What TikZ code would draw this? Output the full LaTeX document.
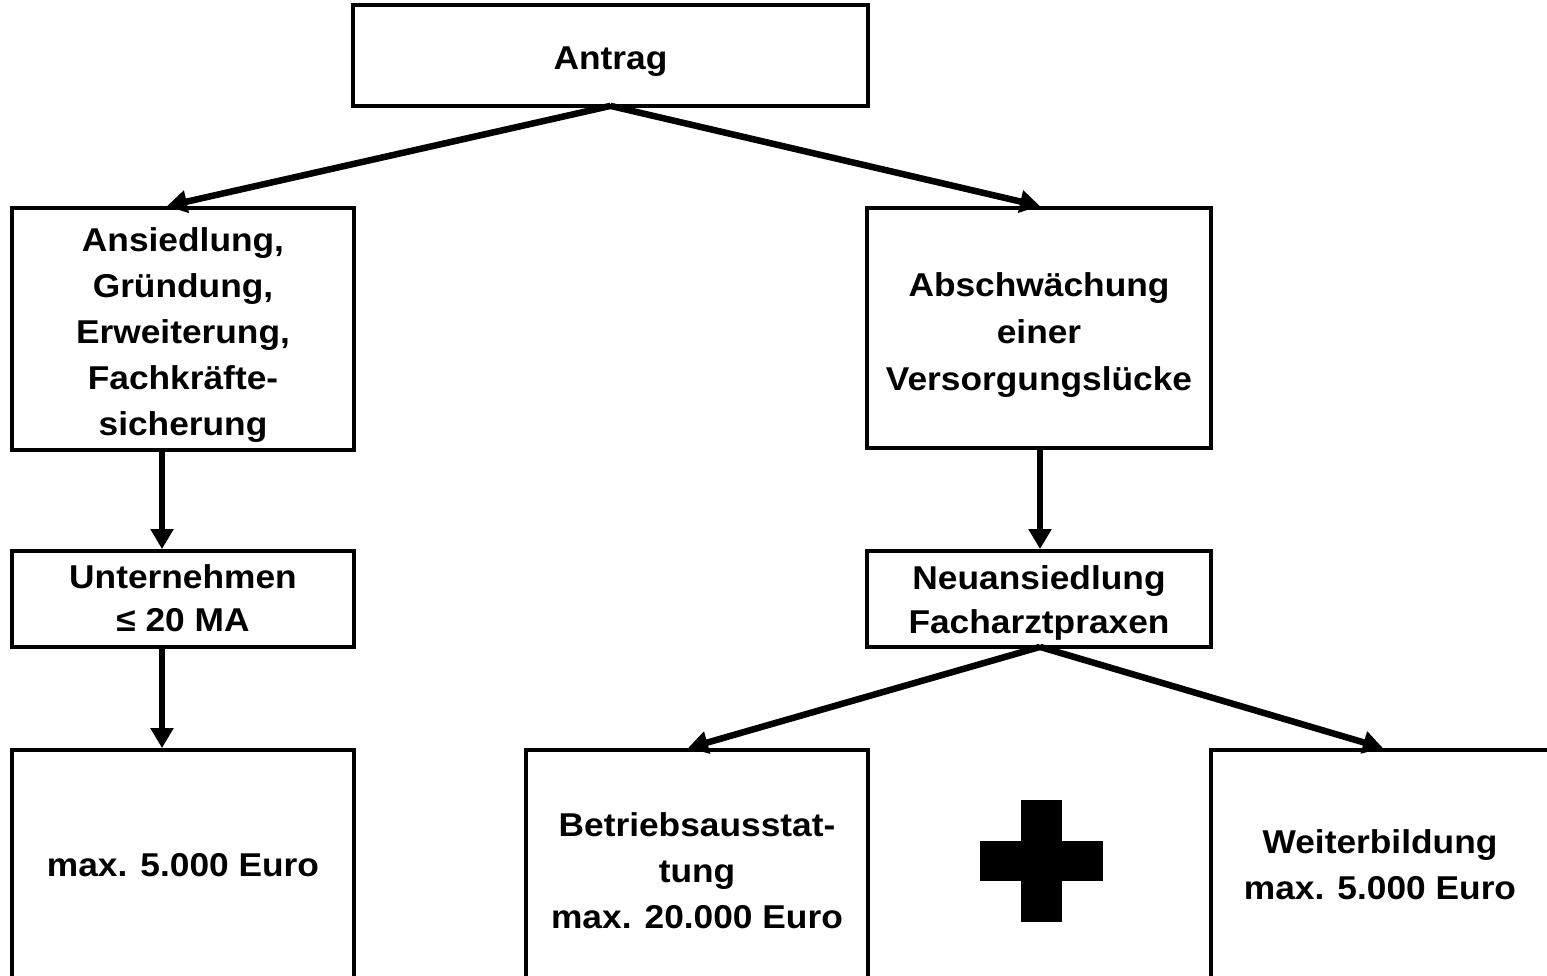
\documentclass[tikz,border=0pt]{standalone}
\usepackage{fontspec}
\setmainfont{Liberation Sans}[FakeStretch=1.07]
\usetikzlibrary{arrows.meta,calc}
\tikzset{
  box/.style={draw=black, line width=3.8pt, fill=white, inner sep=0pt, align=center,
    font=\fontsize{33}{46}\selectfont\bfseries},
  tb/.style={text height=#1pt, text depth=0pt},
  conn/.style={line width=6.5pt, -{Triangle[length=20pt,width=22pt]}, line join=miter},
}
\begin{document}
\begin{tikzpicture}[x=1pt,y=-1pt]
\clip (0,0) rectangle (1547,976);
\fill[white] (0,0) rectangle (1547,976);
\node[box, tb=29, minimum width=515pt, minimum height=101pt] (antrag) at (610.5,55.5) {Antrag};
\node[box, tb=212, minimum width=342pt, minimum height=242pt] (ansied) at (183,329) {Ansiedlung,\\Gründung,\\Erweiterung,\\Fachkräfte-\\sicherung};
\node[box, tb=124, font=\fontsize{33}{47}\selectfont\bfseries, minimum width=344pt, minimum height=240pt] (absch) at (1039,328) {Abschwächung\\einer\\Versorgungslücke};
\node[box, tb=64, font=\fontsize{33}{43}\selectfont\bfseries, minimum width=342pt, minimum height=96pt] (untern) at (183,599) {Unternehmen\\≤ 20 MA};
\node[box, tb=68, font=\fontsize{33}{44}\selectfont\bfseries, minimum width=344pt, minimum height=96pt] (neuan) at (1039,599) {Neuansiedlung\\Facharztpraxen};
\node[box, tb=22, minimum width=342pt, minimum height=230pt] (maxfuenf) at (183,865) {max. 5.000 Euro};
\node[box, tb=126, minimum width=342pt, minimum height=230pt] (betr) at (697,865) {Betriebsausstat-\\tung\\max. 20.000 Euro};
\node[box, tb=68, minimum width=338pt, minimum height=230pt] (weiter) at (1380,865) {Weiterbildung\\max. 5.000 Euro};
% plus sign
\fill[black] (1021,800) rectangle (1062,922);
\fill[black] (980,841) rectangle (1103,881);
% connectors
\coordinate (antragtop) at ($(antrag.south)+(0,-2)$);
\draw[conn] (antragtop) -- ($(ansied.north)+(-16,0)$);
\draw[conn] (antragtop) -- ($(absch.north)+(1,0)$);
\draw[conn] (ansied.south -| 162,0) -- (untern.north -| 162,0);
\draw[conn] (untern.south -| 162,0) -- (maxfuenf.north -| 162,0);
\draw[conn] (absch.south -| 1040,0) -- (neuan.north -| 1040,0);
\coordinate (neuanbot) at ($(neuan.south)+(1,-2)$);
\draw[conn] (neuanbot) -- ($(betr.north)+(-9,0)$);
\draw[conn] (neuanbot) -- ($(weiter.north)+(3,0)$);
\end{tikzpicture}
\end{document}
